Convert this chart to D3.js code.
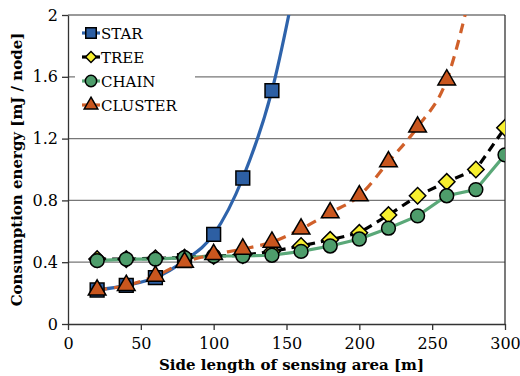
<!DOCTYPE html>
<html>
<head>
<meta charset="utf-8">
<script src="https://cdn.jsdelivr.net/npm/d3@7"></script>
<style>
  body { margin: 0; background: #fff; }
</style>
</head>
<body>
<div id="chart"></div>
<script>
// chart size
const width = 520;
const height = 376;
const margin = {left: 68, right: 15, top: 15, bottom: 52};
const serif = "DejaVu Serif";

// data
const sideLength = [20, 40, 60, 80, 100, 120, 140, 160, 180, 200, 220, 240, 260, 280, 300];
const star = [0.22, 0.25, 0.30, 0.41, 0.58, 0.945, 1.51, 2.4];
const tree = [0.42, 0.42, 0.425, 0.43, 0.44, 0.445, 0.47, 0.505, 0.545, 0.59, 0.705, 0.83, 0.92, 1.0, 1.27];
const chain = [0.41, 0.42, 0.42, 0.43, 0.44, 0.44, 0.445, 0.47, 0.505, 0.55, 0.62, 0.70, 0.83, 0.87, 1.095];
const cluster = [0.22, 0.25, 0.31, 0.40, 0.45, 0.485, 0.53, 0.615, 0.72, 0.83, 1.05, 1.275, 1.58, 2.3];
const xTicks = [0, 50, 100, 150, 200, 250, 300];
const yTicks = [0, 0.4, 0.8, 1.2, 1.6, 2];

const series = [
  {name: "STAR", values: star, line: "#2e63ab", fill: "#2d5fa3", dash: null, symbol: d3.symbolSquare, rot: 0, size: 190, lsize: 110, curve: d3.curveMonotoneX},
  {name: "TREE", values: tree, line: "#000", fill: "#f7ef2e", dash: "9,6", symbol: d3.symbolSquare, rot: 45, size: 135, lsize: 60, curve: d3.curveLinear},
  {name: "CHAIN", values: chain, line: "#5aa878", fill: "#4e9d6b", dash: null, symbol: d3.symbolCircle, rot: 0, size: 150, lsize: 100, curve: d3.curveLinear},
  {name: "CLUSTER", values: cluster, line: "#d0602a", fill: "#c9561e", dash: "10,7", symbol: d3.symbolTriangle, rot: 0, size: 135, lsize: 80, curve: d3.curveMonotoneX}
];

const svg = d3.select("#chart")
  .append("svg")
  .attr("width", width)
  .attr("height", height)
  .style("font-family", serif);

const x = d3.scaleLinear().domain([0, 300]).range([margin.left, width - margin.right]);
const y = d3.scaleLinear().domain([0, 2]).range([height - margin.bottom, margin.top]);

// gridlines
svg.append("g")
  .selectAll("line")
  .data(yTicks.slice(1))
  .enter()
  .append("line")
    .attr("x1", x(0)).attr("x2", x(300))
    .attr("y1", d => y(d)).attr("y2", d => y(d))
    .attr("stroke", "#777").attr("stroke-width", 1.3);

// right border
svg.append("line")
  .attr("x1", x(300)).attr("x2", x(300))
  .attr("y1", y(0)).attr("y2", y(2))
  .attr("stroke", "#333").attr("stroke-width", 1.3);

// axes
const yAxis = svg.append("g")
  .attr("transform", `translate(${margin.left},0)`)
  .call(d3.axisLeft(y).tickValues(yTicks).tickSize(6).tickSizeOuter(0).tickFormat(d3.format("")));

const xAxis = svg.append("g")
  .attr("transform", `translate(0,${height - margin.bottom})`)
  .call(d3.axisBottom(x).tickValues(xTicks).tickSize(6).tickSizeOuter(0));

[xAxis, yAxis].forEach(a => {
  a.attr("font-size", "16px").attr("font-family", null);
  a.selectAll("path, line").attr("stroke", "#333").attr("stroke-width", 1.3);
  a.selectAll("text").attr("fill", "#000").style("font-family", serif);
});
yAxis.selectAll("text").attr("x", -10);
xAxis.selectAll("text").attr("y", 14);

// clip the plot area
svg.append("clipPath").attr("id", "plot")
  .append("rect")
  .attr("x", x(0)).attr("y", y(2))
  .attr("width", x(300) - x(0)).attr("height", y(0) - y(2));

const plot = svg.append("g").attr("clip-path", "url(#plot)");

// lines
series.forEach(s => {
  const line = d3.line()
    .x((d, i) => x(sideLength[i]))
    .y(d => y(d))
    .curve(s.curve);
  plot.append("path")
    .datum(s.values)
    .attr("d", line)
    .attr("fill", "none")
    .attr("stroke", s.line)
    .attr("stroke-width", 3.2)
    .attr("stroke-dasharray", s.dash);
});

// markers
series.forEach(s => {
  plot.selectAll(".m-" + s.name)
    .data(s.values.filter(v => v <= 2))
    .enter()
    .append("path")
      .attr("class", "m-" + s.name)
      .attr("transform", (d, i) => `translate(${x(sideLength[i])},${y(d)}) rotate(${s.rot})`)
      .attr("d", d3.symbol().type(s.symbol).size(s.size))
      .attr("fill", s.fill)
      .attr("stroke", "#000")
      .attr("stroke-width", 1.5);
});

// legend
const legend = svg.append("g");
legend.append("rect")
  .attr("x", 75).attr("y", 20)
  .attr("width", 120).attr("height", 98)
  .attr("fill", "#fff");

series.forEach((s, i) => {
  const ly = 33 + i * 24;
  legend.append("line")
    .attr("x1", 82).attr("x2", 100)
    .attr("y1", ly).attr("y2", ly)
    .attr("stroke", s.line).attr("stroke-width", 3.2);
  legend.append("path")
    .attr("transform", `translate(91,${ly}) rotate(${s.rot})`)
    .attr("d", d3.symbol().type(s.symbol).size(s.lsize))
    .attr("fill", s.fill)
    .attr("stroke", "#000")
    .attr("stroke-width", 1.5);
  legend.append("text")
    .attr("x", 101).attr("y", ly + 6)
    .attr("font-size", "15px")
    .text(s.name);
});

// axis titles
svg.append("text")
  .attr("x", (x(0) + x(300)) / 2 + 5)
  .attr("y", 370)
  .attr("text-anchor", "middle")
  .attr("font-size", "15px")
  .attr("font-weight", "bold")
  .text("Side length of sensing area [m]");

svg.append("text")
  .attr("transform", `translate(22,${(y(0) + y(2)) / 2}) rotate(-90)`)
  .attr("text-anchor", "middle")
  .attr("font-size", "15px")
  .attr("font-weight", "bold")
  .text("Consumption energy [mJ / node]");
</script>
</body>
</html>
